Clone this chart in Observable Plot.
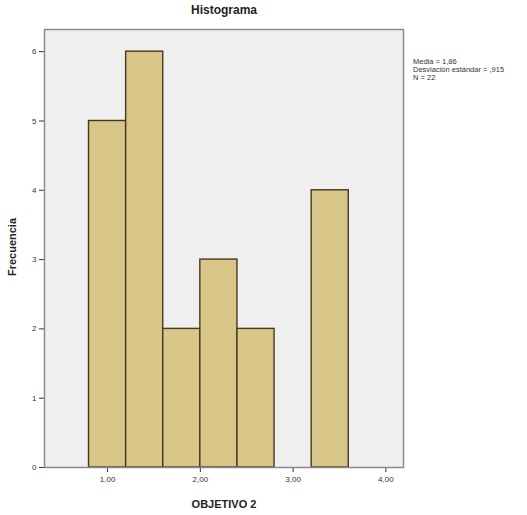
<!DOCTYPE html>
<html><head><meta charset="utf-8">
<script src="https://cdn.jsdelivr.net/npm/d3@7"></script>
<script src="https://cdn.jsdelivr.net/npm/@observablehq/plot@0.6"></script>
<style>body{margin:0;background:#fff;} svg{display:block;}</style>
</head><body><div id="chart"></div>
<script>
const binStart = [0.8, 1.2, 1.6, 2.0, 2.4, 3.2];
const binEnd   = [1.2, 1.6, 2.0, 2.4, 2.8, 3.6];
const counts   = [5, 6, 2, 3, 2, 4];
const xTicks = [1, 2, 3, 4];
const xTickLabels = ["1,00", "2,00", "3,00", "4,00"];
const yTicks = [0, 1, 2, 3, 4, 5, 6];
const legendLines = ["Media = 1,86", "Desviación estándar = ,915", "N = 22"];
const title = "Histograma";
const xLabel = "OBJETIVO 2";
const yLabel = "Frecuencia";

const bars = binStart.map((s, i) => ({x1: s, x2: binEnd[i], y: counts[i]}));
const font = "Liberation Sans, Arial, sans-serif";

const plot = Plot.plot({
  width: 527, height: 515,
  marginLeft: 44, marginRight: 124, marginTop: 29, marginBottom: 48,
  style: {fontFamily: font, fontSize: "8px", color: "#333", background: "#fff"},
  x: {domain: [0.32, 4.19], ticks: xTicks, tickFormat: (d, i) => xTickLabels[i], tickSize: 5, label: null},
  y: {domain: [0, 6.32], ticks: yTicks, tickFormat: d3.format("d"), tickSize: 5, label: null, tickPadding: 3},
  marks: [
    Plot.frame({fill: "#efefef", stroke: "none"}),
    Plot.rectY(bars, {x1: "x1", x2: "x2", y: "y", fill: "#d7c688", stroke: "#45371f", strokeWidth: 1.4, inset: 0}),
    Plot.frame({stroke: "#8a8a8a", strokeWidth: 1.5})
  ]
});
document.getElementById("chart").appendChild(plot);

const svg = d3.select(plot);
svg.append("text").attr("x", 224).attr("y", 14).attr("text-anchor", "middle")
  .attr("font-family", font).attr("font-size", 12).attr("font-weight", "bold").attr("fill", "#222").text(title);
svg.append("text").attr("x", 224).attr("y", 508).attr("text-anchor", "middle")
  .attr("font-family", font).attr("font-size", 11).attr("font-weight", "bold").attr("fill", "#222").text(xLabel);
svg.append("text").attr("transform", "translate(16,247) rotate(-90)").attr("text-anchor", "middle")
  .attr("font-family", font).attr("font-size", 11).attr("font-weight", "bold").attr("fill", "#222").text(yLabel);
legendLines.forEach((t, i) => {
  svg.append("text").attr("x", 413).attr("y", 64 + i * 8).attr("text-anchor", "start").attr("font-family", font)
    .attr("font-size", 7.5).attr("fill", "#333").text(t);
});
</script></body></html>
